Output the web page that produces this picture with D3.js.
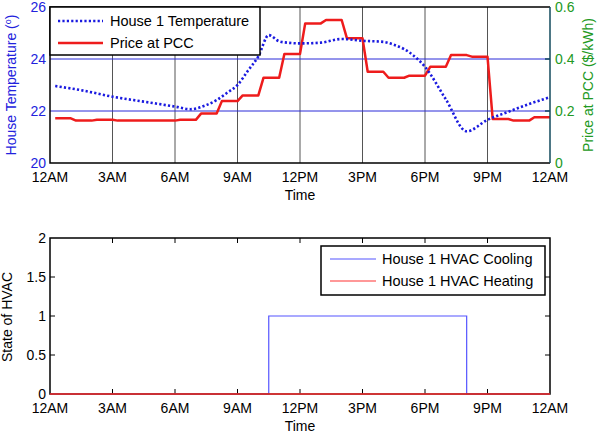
<!DOCTYPE html>
<html>
<head>
<meta charset="utf-8">
<script src="https://cdn.jsdelivr.net/npm/d3@7"></script>
<style>
  body { margin: 0; background: #fff; }
  svg { font-family: "Liberation Sans", Arial, sans-serif; }
</style>
</head>
<body>
<svg id="chart" width="597" height="438"></svg>
<script>
// hours of the day and labels
const timeTicks = [0, 3, 6, 9, 12, 15, 18, 21, 24];
const timeLabels = ["12AM", "3AM", "6AM", "9AM", "12PM", "3PM", "6PM", "9PM", "12AM"];

// house temperature (deg)
const tempHours  = [0.25, 1.5, 3, 4.5, 6, 6.75, 7.5, 8, 8.5, 9, 9.5, 10, 10.5, 11, 11.5, 12, 13, 14, 15, 16, 16.5, 17, 17.5, 18, 19, 20, 21, 22, 23, 24];
const tempValues = [22.96, 22.8, 22.55, 22.36, 22.17, 22.07, 22.23, 22.42, 22.7, 23.0, 23.55, 24.1, 24.92, 24.68, 24.62, 24.6, 24.63, 24.77, 24.7, 24.66, 24.55, 24.38, 24.1, 23.7, 22.45, 21.22, 21.66, 21.97, 22.27, 22.53];

// price at PCC ($/kWh), one value per hour
const priceHourly = [0.172, 0.163, 0.166, 0.163, 0.163, 0.163, 0.166, 0.19, 0.238, 0.26, 0.328, 0.419,
                     0.537, 0.55, 0.48, 0.351, 0.328, 0.336, 0.37, 0.415, 0.409, 0.169, 0.163, 0.176];

// HVAC state (step after)
const hvacHours    = [0, 10.5, 20, 24];
const coolingState = [0, 1, 0, 0];
const heatingState = [0, 0, 0, 0];

const tempTicks = [20, 22, 24, 26];
const priceTicks = [0, 0.2, 0.4, 0.6];
const stateTicks = [0, 0.5, 1, 1.5, 2];

const svg = d3.select("#chart");
const font = 14;

const x = d3.scaleLinear().domain([0, 24]).range([50, 550]);
const yT = d3.scaleLinear().domain([20, 26]).range([163, 7]);
const yP = d3.scaleLinear().domain([0, 0.6]).range([163, 7]);
const yS = d3.scaleLinear().domain([0, 2]).range([394, 238]);

const blue = "#2222dd", green = "#229922";

/* ---------- top plot ---------- */
const topG = svg.append("g");

// vertical grid
topG.selectAll("line.vg")
  .data(timeTicks.slice(1, -1))
  .enter().append("line")
  .attr("x1", d => x(d)).attr("x2", d => x(d))
  .attr("y1", yT(20)).attr("y2", yT(26))
  .attr("stroke", "#555").attr("stroke-width", 1);

// horizontal blue grid
topG.selectAll("line.hg")
  .data([22, 24])
  .enter().append("line")
  .attr("x1", x(0)).attr("x2", x(24))
  .attr("y1", d => yT(d)).attr("y2", d => yT(d))
  .attr("stroke", "#2b2bd8").attr("stroke-width", 1);

// right axis ticks
topG.selectAll("line.rt")
  .data(priceTicks.slice(1, -1))
  .enter().append("line")
  .attr("x1", x(24) - 5).attr("x2", x(24))
  .attr("y1", d => yP(d)).attr("y2", d => yP(d))
  .attr("stroke", "#124a5c").attr("stroke-width", 1.5);

const pricePts = priceHourly.flatMap((p, h) => [[h + 0.25, p], [h + 1, p]]);
topG.append("path")
  .datum(pricePts)
  .attr("fill", "none")
  .attr("stroke", "#ee1c1c")
  .attr("stroke-width", 2.5)
  .attr("stroke-linejoin", "round")
  .attr("d", d3.line().x(d => x(d[0])).y(d => yP(d[1])));

topG.append("path")
  .datum(tempHours.map((h, i) => [h, tempValues[i]]))
  .attr("fill", "none")
  .attr("stroke", "#1a1ae0")
  .attr("stroke-width", 2.6)
  .attr("stroke-dasharray", "2.2,2.2")
  .attr("d", d3.line().x(d => x(d[0])).y(d => yT(d[1])).curve(d3.curveMonotoneX));

// frame
topG.append("path")
  .attr("d", `M${x(24)},${yT(26)}H${x(0)}V${yT(20)}H${x(24)}`)
  .attr("fill", "none").attr("stroke", "#000").attr("stroke-width", 1.5);
topG.append("line")
  .attr("x1", x(24)).attr("x2", x(24)).attr("y1", yT(26)).attr("y2", yT(20))
  .attr("stroke", "#124a5c").attr("stroke-width", 1.5);

// tick labels
topG.selectAll("text.xl")
  .data(timeTicks)
  .enter().append("text")
  .attr("x", d => x(d)).attr("y", 182)
  .attr("text-anchor", "middle").attr("font-size", font)
  .text((d, i) => timeLabels[i]);

topG.selectAll("text.yl")
  .data(tempTicks)
  .enter().append("text")
  .attr("x", 46).attr("y", d => yT(d) + 4.5)
  .attr("text-anchor", "end").attr("font-size", font)
  .attr("fill", blue)
  .text(d => d);

topG.selectAll("text.yr")
  .data(priceTicks)
  .enter().append("text")
  .attr("x", 555).attr("y", d => yP(d) + 4.5)
  .attr("font-size", font).attr("fill", green)
  .text(d => d);

topG.append("text")
  .attr("x", 300).attr("y", 200)
  .attr("text-anchor", "middle").attr("font-size", font)
  .text("Time");

topG.append("text")
  .attr("transform", "translate(16,85) rotate(-90)")
  .attr("text-anchor", "middle").attr("font-size", font)
  .attr("fill", blue)
  .html("House Temperature (<tspan dy='-5' font-size='9'>o</tspan><tspan dy='5'>)</tspan>");

topG.append("text")
  .attr("transform", "translate(593,85) rotate(-90)")
  .attr("text-anchor", "middle").attr("font-size", font)
  .attr("fill", green)
  .text("Price at PCC ($/kWh)");

// legend
const lg = topG.append("g");
lg.append("rect")
  .attr("x", 50).attr("y", 7).attr("width", 210).attr("height", 48)
  .attr("fill", "#fff").attr("stroke", "#000").attr("stroke-width", 1.5);
lg.append("line")
  .attr("x1", 58).attr("x2", 103).attr("y1", 21).attr("y2", 21)
  .attr("stroke", "#1a1ae0").attr("stroke-width", 2.6).attr("stroke-dasharray", "2.2,2.2");
lg.append("line")
  .attr("x1", 58).attr("x2", 103).attr("y1", 43).attr("y2", 43)
  .attr("stroke", "#ee1c1c").attr("stroke-width", 2.5);
lg.append("text").attr("x", 110).attr("y", 26).attr("font-size", 14.5).text("House 1 Temperature");
lg.append("text").attr("x", 110).attr("y", 48).attr("font-size", 14.5).text("Price at PCC");

/* ---------- bottom plot ---------- */
const botG = svg.append("g");

// ticks inside (bottom/top and left/right)
timeTicks.slice(1, -1).forEach(t => {
  botG.append("line").attr("x1", x(t)).attr("x2", x(t)).attr("y1", yS(0)).attr("y2", yS(0) - 5).attr("stroke", "#000");
  botG.append("line").attr("x1", x(t)).attr("x2", x(t)).attr("y1", yS(2)).attr("y2", yS(2) + 5).attr("stroke", "#000");
});
stateTicks.slice(1, -1).forEach(s => {
  botG.append("line").attr("x1", x(0)).attr("x2", x(0) + 5).attr("y1", yS(s)).attr("y2", yS(s)).attr("stroke", "#000");
  botG.append("line").attr("x1", x(24)).attr("x2", x(24) - 5).attr("y1", yS(s)).attr("y2", yS(s)).attr("stroke", "#000");
});

const stepLine = d3.line().x(d => x(d[0])).y(d => yS(d[1])).curve(d3.curveStepAfter);
botG.append("path")
  .datum(hvacHours.map((h, i) => [h, coolingState[i]]))
  .attr("fill", "none").attr("stroke", "#5555ff").attr("stroke-width", 1.2)
  .attr("d", stepLine);

botG.append("rect")
  .attr("x", x(0)).attr("y", yS(2)).attr("width", x(24) - x(0)).attr("height", yS(0) - yS(2))
  .attr("fill", "none").attr("stroke", "#000").attr("stroke-width", 1.5);
// heating drawn over the frame bottom
botG.append("path")
  .datum(hvacHours.map((h, i) => [h, heatingState[i]]))
  .attr("fill", "none").attr("stroke", "#ff3333").attr("stroke-width", 1.6)
  .attr("d", stepLine);

botG.selectAll("text.xl")
  .data(timeTicks)
  .enter().append("text")
  .attr("x", d => x(d)).attr("y", 413)
  .attr("text-anchor", "middle").attr("font-size", font)
  .text((d, i) => timeLabels[i]);

botG.selectAll("text.yl")
  .data(stateTicks)
  .enter().append("text")
  .attr("x", 46).attr("y", d => yS(d) + 4.5)
  .attr("text-anchor", "end").attr("font-size", font)
  .text(d => d);

botG.append("text")
  .attr("x", 300).attr("y", 431)
  .attr("text-anchor", "middle").attr("font-size", font)
  .text("Time");

botG.append("text")
  .attr("transform", "translate(12,317) rotate(-90)")
  .attr("text-anchor", "middle").attr("font-size", font)
  .text("State of HVAC");

const lb = botG.append("g");
lb.append("rect")
  .attr("x", 321).attr("y", 246).attr("width", 224).attr("height", 49)
  .attr("fill", "#fff").attr("stroke", "#000").attr("stroke-width", 1.5);
lb.append("line").attr("x1", 330).attr("x2", 376).attr("y1", 259).attr("y2", 259)
  .attr("stroke", "#5555ff").attr("stroke-width", 1.2);
lb.append("line").attr("x1", 330).attr("x2", 376).attr("y1", 281).attr("y2", 281)
  .attr("stroke", "#ff3333").attr("stroke-width", 1.2);
lb.append("text").attr("x", 382).attr("y", 264).attr("font-size", 14.5).text("House 1 HVAC Cooling");
lb.append("text").attr("x", 382).attr("y", 286).attr("font-size", 14.5).text("House 1 HVAC Heating");
</script>
</body>
</html>
